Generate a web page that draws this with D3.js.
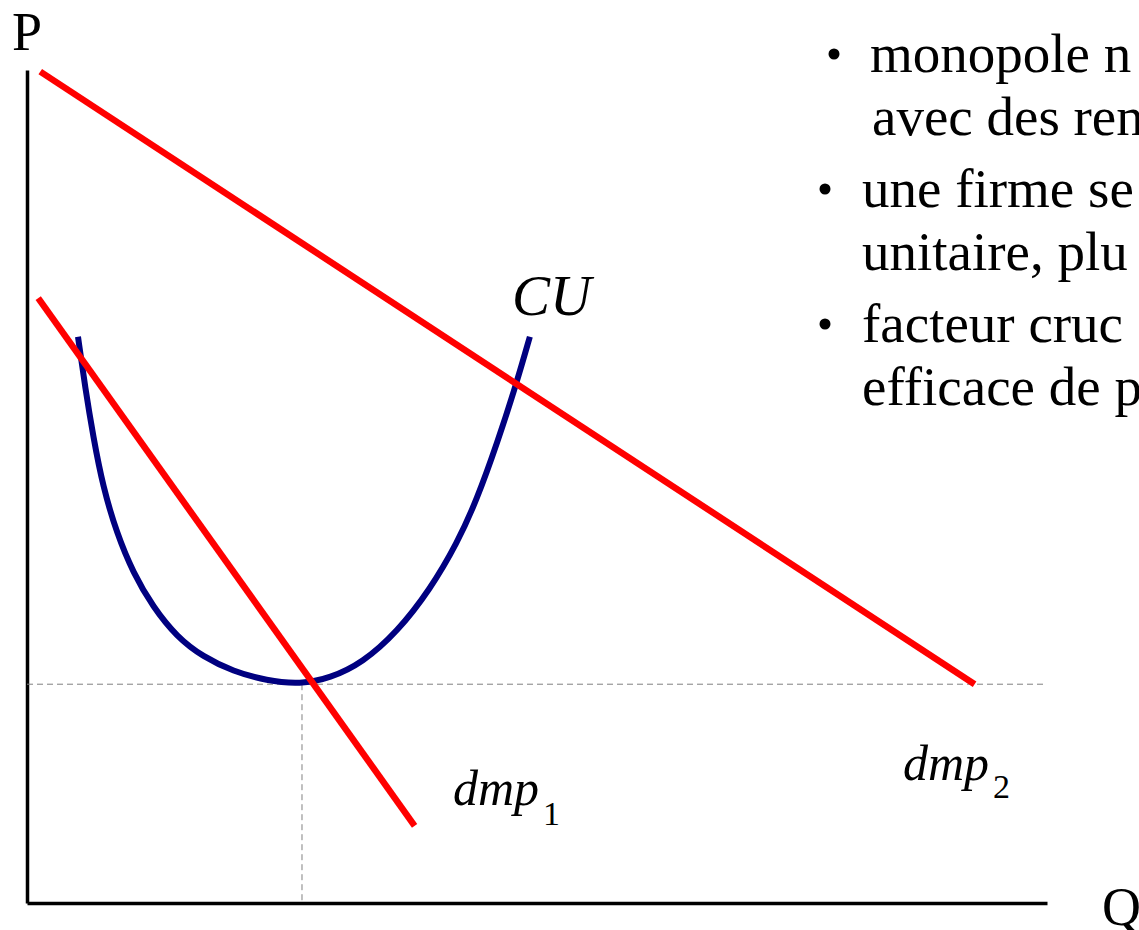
<!DOCTYPE html>
<html><head><meta charset="utf-8">
<script src="https://cdn.jsdelivr.net/npm/d3@7"></script>
<style>body{margin:0;background:#fff}svg{display:block}text{font-family:"Liberation Serif","Times New Roman",serif;fill:#000}</style>
</head><body><svg id="c" width="1139" height="930"></svg>
<script>
// Data (abstract units: Q on x, P on y)
const dmp1 = [{q:1.1,p:70.5},{q:38.0,p:9.0}];
const dmp2 = [{q:1.3,p:96.9},{q:92.9,p:25.5}];
const cu = [
 {q:5.0,p:66.0},{q:5.7,p:60.1},{q:6.5,p:54.3},{q:7.45,p:48.5},{q:8.8,p:43.1},
 {q:10.4,p:38.5},{q:12.35,p:34.5},{q:14.7,p:31.0},{q:17.25,p:28.7},{q:20.2,p:27.0},
 {q:23.5,p:25.9},{q:26.8,p:25.5},{q:29.7,p:26.2},{q:32.9,p:28.0},{q:36.3,p:31.6},
 {q:39.5,p:36.5},{q:42.2,p:42.0},{q:44.1,p:47.0},{q:46.1,p:53.6},{q:48.0,p:60.6},
 {q:49.3,p:66.0}
];
const minPoint = {q:26.96, p:25.5};
const bullets = [
 ["monopole n","avec des ren"],
 ["une firme se","unitaire, plu"],
 ["facteur cruc","efficace de p"]
];
const axisLabels = {p:"P", q:"Q"};

const svg = d3.select("#c");
const x = d3.scaleLinear().domain([0,100]).range([27,1047]);
const y = d3.scaleLinear().domain([0,100]).range([903,45]);
const line = d3.line().x(d=>x(d.q)).y(d=>y(d.p));

// axes
svg.append("g").attr("transform",`translate(0,${y(0)})`)
  .call(d3.axisBottom(x).ticks(0).tickSizeOuter(0))
  .select(".domain").attr("stroke","#000").attr("stroke-width",3.5);
svg.append("g").attr("transform",`translate(${x(0)},0)`)
  .call(d3.axisLeft(y.copy().domain([0,97.1]).range([903,70])).ticks(0).tickSizeOuter(0))
  .select(".domain").attr("stroke","#000").attr("stroke-width",3.5);

// dashed guides
svg.append("line").attr("x1",x(0)).attr("x2",x(100)).attr("y1",y(minPoint.p)).attr("y2",y(minPoint.p))
  .attr("stroke","#808080").attr("stroke-width",1).attr("stroke-dasharray","6,4");
svg.append("line").attr("x1",x(minPoint.q)).attr("x2",x(minPoint.q)).attr("y1",y(minPoint.p)).attr("y2",y(0))
  .attr("stroke","#808080").attr("stroke-width",1).attr("stroke-dasharray","6,4");

// curves
const cuLine = d3.line().x(d=>x(d.q)).y(d=>y(d.p)).curve(d3.curveBasis);
svg.append("path").attr("d",cuLine(cu)).attr("fill","none").attr("stroke","#000080").attr("stroke-width",6);
svg.append("path").attr("d",line(dmp2)).attr("fill","none").attr("stroke","#ff0000").attr("stroke-width",6.5);
svg.append("path").attr("d",line(dmp1)).attr("fill","none").attr("stroke","#ff0000").attr("stroke-width",6.5);

// labels
svg.append("text").attr("x",12).attr("y",50).attr("font-size",54).text(axisLabels.p);
svg.append("text").attr("x",1102).attr("y",925).attr("font-size",54).text(axisLabels.q);
svg.append("text").attr("x",512).attr("y",315).attr("font-size",57).attr("font-style","italic").text("CU");
function sub(xp,yp,main,s,dy){
  const t = svg.append("text").attr("x",xp).attr("y",yp).attr("font-size",50);
  t.append("tspan").attr("font-style","italic").text(main);
  t.append("tspan").attr("font-size",34).attr("dx",4).attr("dy",dy).text(s);
}
sub(453,805,"dmp","1",20);
sub(903,780,"dmp","2",18);

// bullets
const lineY = [[72,135],[207,270],[342,405]];
const bx = [834,825,825], tx = [870,862,862];
bullets.forEach((b,i)=>{
  svg.append("circle").attr("cx",bx[i]).attr("cy",lineY[i][0]-18).attr("r",5.5).attr("fill","#000");
  b.forEach((s,j)=>{
    svg.append("text").attr("x",tx[i]+(i===0&&j===1?2:0)).attr("y",lineY[i][j]).attr("font-size",55).text(s);
  });
});
</script></body></html>
